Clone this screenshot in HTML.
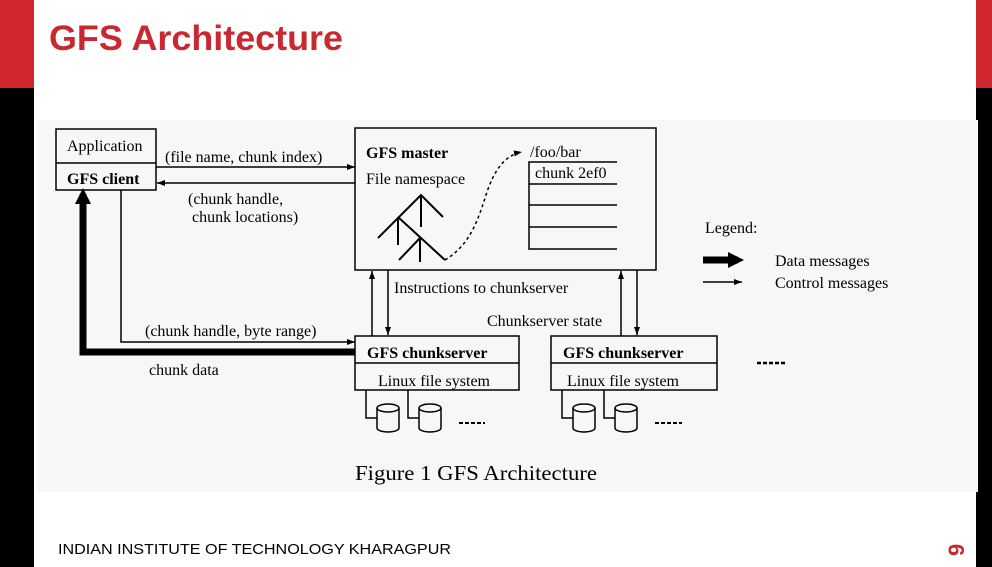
<!DOCTYPE html>
<html><head><meta charset="utf-8"><style>
html,body{margin:0;padding:0;}
body{width:992px;height:567px;position:relative;background:#fff;overflow:hidden;}
</style></head><body>
<svg width="992" height="567" viewBox="0 0 992 567" xmlns="http://www.w3.org/2000/svg" style="position:absolute;left:0;top:0">
<defs>
<marker id="a" markerWidth="8" markerHeight="6" refX="8" refY="3" orient="auto" markerUnits="userSpaceOnUse"><path d="M0,0 L8,3 L0,6z" fill="#000"/></marker>
<marker id="b" markerWidth="16" markerHeight="16" refX="10" refY="8" orient="auto" markerUnits="userSpaceOnUse"><path d="M0,0 L16,8 L0,16z" fill="#000"/></marker>
</defs>
<rect x="0" y="0" width="34" height="88" fill="#d0262e"/>
<rect x="0" y="88" width="34" height="479" fill="#000"/>
<rect x="976" y="0" width="16" height="88" fill="#d0262e"/>
<rect x="976" y="88" width="16" height="479" fill="#000"/>
<rect x="37" y="120" width="941" height="372" fill="#f7f7f7"/>
<text x="49" y="50" font-family="Liberation Sans, sans-serif" font-weight="bold" font-size="35" fill="#c9282e" textLength="294" lengthAdjust="spacingAndGlyphs">GFS Architecture</text>
<text x="58" y="554" font-family="Liberation Sans, sans-serif" font-size="15" fill="#000" textLength="393" lengthAdjust="spacingAndGlyphs">INDIAN INSTITUTE OF TECHNOLOGY KHARAGPUR</text>
<text x="0" y="0" transform="translate(964,556) rotate(-90)" font-family="Liberation Sans, sans-serif" font-weight="bold" font-size="22" fill="#c9282e">9</text>
<g font-family="Liberation Serif, serif" font-size="16" fill="#000" stroke="none">
<g fill="none" stroke="#000" stroke-width="1.5">
<rect x="56" y="129" width="100" height="61"/>
<line x1="56" y1="163" x2="156" y2="163"/>
<rect x="355" y="128" width="301" height="142"/>
<path d="M617,162 H529 V249 H617"/>
<line x1="529" y1="184" x2="617" y2="184"/>
<line x1="529" y1="205" x2="617" y2="205"/>
<line x1="529" y1="227" x2="617" y2="227"/>
<rect x="355" y="336" width="164" height="54"/>
<line x1="355" y1="363" x2="519" y2="363"/>
<rect x="551" y="336" width="166" height="54"/>
<line x1="551" y1="363" x2="717" y2="363"/>
<line x1="156" y1="167" x2="355" y2="167" marker-end="url(#a)"/>
<line x1="355" y1="183" x2="157" y2="183" marker-end="url(#a)"/>
<path d="M121,190 V342 H355" marker-end="url(#a)"/>
<line x1="372" y1="336" x2="372" y2="271" marker-end="url(#a)"/>
<line x1="388" y1="270" x2="388" y2="335" marker-end="url(#a)"/>
<line x1="621" y1="336" x2="621" y2="271" marker-end="url(#a)"/>
<line x1="637" y1="270" x2="637" y2="335" marker-end="url(#a)"/>
<path d="M355,352 H83 V194" stroke-width="7" marker-end="url(#b)"/>
<line x1="703" y1="260" x2="738" y2="260" stroke-width="7" marker-end="url(#b)"/>
<line x1="703" y1="282" x2="742" y2="282" marker-end="url(#a)"/>
<path d="M443,217 L421,195 L378,238 M398,217 L445,260 M420,238 L399,260 M421,195 V227 M398,217 V245 M420,238 V262" stroke-width="2"/>
<path d="M445,260 C470,245 478,220 486,195 C494,170 505,155 522,152" stroke-dasharray="3,3" marker-end="url(#a)"/>
<path d="M366,390 V418 H377 M408,390 V418 H419 M562,390 V418 H573 M604,390 V418 H615"/>
<g id="cyl">
<path d="M377,408 V428 A11,4 0 0 0 399,428 V408"/>
<ellipse cx="388" cy="408" rx="11" ry="4"/>
</g>
<use href="#cyl" x="42"/>
<use href="#cyl" x="196"/>
<use href="#cyl" x="238"/>
<line x1="459" y1="423" x2="485" y2="423" stroke-width="2" stroke-dasharray="4,2"/>
<line x1="655" y1="423" x2="682" y2="423" stroke-width="2" stroke-dasharray="4,2"/>
<line x1="757" y1="363" x2="787" y2="363" stroke-width="2.5" stroke-dasharray="4,2"/>
</g>
<text x="67" y="151">Application</text>
<text x="67" y="184" font-weight="bold">GFS client</text>
<text x="165" y="162">(file name, chunk index)</text>
<text x="188" y="204">(chunk handle,</text>
<text x="192" y="222">chunk locations)</text>
<text x="366" y="158" font-weight="bold">GFS master</text>
<text x="366" y="184">File namespace</text>
<text x="530" y="157">/foo/bar</text>
<text x="535" y="178">chunk 2ef0</text>
<text x="394" y="293">Instructions to chunkserver</text>
<text x="487" y="326">Chunkserver state</text>
<text x="145" y="336">(chunk handle, byte range)</text>
<text x="149" y="375">chunk data</text>
<text x="367" y="358" font-weight="bold">GFS chunkserver</text>
<text x="378" y="386">Linux file system</text>
<text x="563" y="358" font-weight="bold">GFS chunkserver</text>
<text x="567" y="386">Linux file system</text>
<text x="705" y="233">Legend:</text>
<text x="775" y="266">Data messages</text>
<text x="775" y="288">Control messages</text>
<text x="476" y="480" text-anchor="middle" font-size="21" textLength="242" lengthAdjust="spacingAndGlyphs">Figure 1 GFS Architecture</text>
</g>
</svg>
</body></html>
